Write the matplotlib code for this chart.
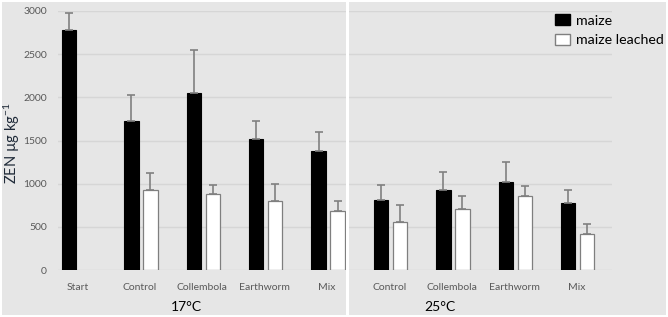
import matplotlib
matplotlib.use("Agg")
import matplotlib.pyplot as plt
from matplotlib.patches import Rectangle, Patch
import numpy as np

plt.rcParams['font.family'] = ['Lato', 'DejaVu Sans']
plt.rcParams['mathtext.fontset'] = 'custom'
plt.rcParams['mathtext.rm'] = 'Lato'
plt.rcParams['mathtext.default'] = 'regular'

categories = ["Start", "Control", "Collembola", "Earthworm", "Mix",
              "Control", "Collembola", "Earthworm", "Mix"]
temps = ["17°C", "25°C"]
maize = [2780, 1730, 2050, 1520, 1375, 815, 925, 1020, 780]
maize_err = [200, 300, 495, 210, 225, 175, 215, 235, 150]
leached = [np.nan, 930, 880, 800, 685, 555, 710, 855, 420]
leached_err = [np.nan, 190, 110, 200, 115, 195, 150, 115, 110]
yticks = [0, 500, 1000, 1500, 2000, 2500, 3000]

W, H = 668, 317
fig = plt.figure(figsize=(W / 100, H / 100), dpi=100)
fig.patch.set_facecolor('white')

def fx(px):
    return px / W

def fy(py):
    return 1 - py / H

bg = '#E6E6E6'
fig.patches.append(Rectangle((fx(2), fy(315)), fx(345.5) - fx(2), fy(2) - fy(315),
                             transform=fig.transFigure, facecolor=bg, edgecolor='none', zorder=-10))
fig.patches.append(Rectangle((fx(349), fy(315)), fx(666) - fx(349), fy(2) - fy(315),
                             transform=fig.transFigure, facecolor=bg, edgecolor='none', zorder=-10))

# axes: group centre i maps to pixel 78.5 + 62.4*i
ax = fig.add_axes([fx(58), fy(270), fx(612) - fx(58), fy(11) - fy(270)])
ax.set_facecolor('none')
ax.set_xlim((58 - 78.5) / 62.4, (612 - 78.5) / 62.4)
ax.set_ylim(0, 3000)

x = np.arange(len(categories))
bw = 14.5 / 62.4
off = 9.5 / 62.4
err_kw = dict(ecolor='#808080', elinewidth=1.2, capsize=2.6, capthick=1.2)
ax.bar(x - off, maize, bw, color='black', edgecolor='black', linewidth=0.8,
       yerr=[np.zeros(len(maize)), maize_err], error_kw=err_kw, zorder=3, label='maize')
ax.bar(x + off, leached, bw, color='white', edgecolor='#7f7f7f', linewidth=0.9,
       yerr=[np.zeros(len(leached)), leached_err], error_kw=err_kw, zorder=3, label='maize leached')

ax.set_yticks(yticks)
ax.yaxis.grid(True, color='#D6D6D6', linewidth=1.0, zorder=0)
ax.set_axisbelow(True)
ax.set_xticks(x - 0.02)
ax.set_xticklabels(categories)
for s in ax.spines.values():
    s.set_visible(False)
ax.tick_params(axis='both', length=0, labelsize=7.5, colors='#595959')
ax.tick_params(axis='x', pad=9)
ax.tick_params(axis='y', pad=8)

fig.text(fx(12), fy(143), 'ZEN µg kg$^{-1}$', rotation=90, ha='center', va='center',
         fontsize=10.5, color='#1f2a38')

fig.text(fx(186), fy(307), temps[0], ha='center', va='center', fontsize=10, color='black')
fig.text(fx(440), fy(307), temps[1], ha='center', va='center', fontsize=10, color='black')

# white separator strip
fig.patches.append(Rectangle((fx(345.5), 0), fx(3.5), 1, transform=fig.transFigure,
                             facecolor='white', edgecolor='none', zorder=5))

handles = [Patch(facecolor='black', edgecolor='black'),
           Patch(facecolor='white', edgecolor='#7f7f7f')]
leg = fig.legend(handles, ['maize', 'maize leached'], loc='upper left',
                 bbox_to_anchor=(fx(555), fy(14)), frameon=False, fontsize=10.2,
                 handlelength=1.05, handleheight=0.85, handletextpad=0.45,
                 labelspacing=0.5, borderpad=0, borderaxespad=0)

fig.savefig('out.png', dpi=100, facecolor='white')
